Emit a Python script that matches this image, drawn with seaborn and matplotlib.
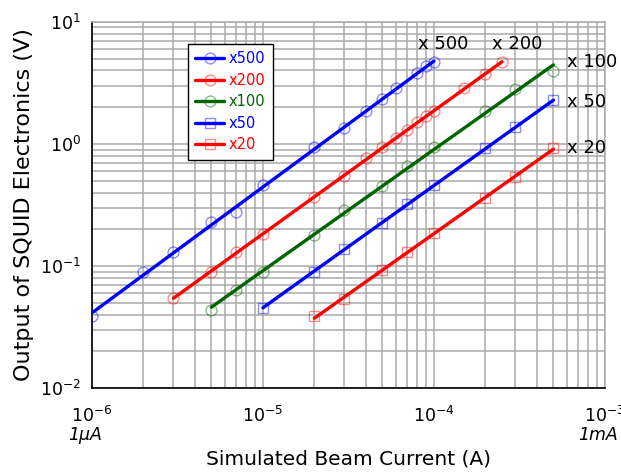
import numpy as np
import pandas as pd
import matplotlib
matplotlib.use("Agg")
import matplotlib.pyplot as plt
from matplotlib.lines import Line2D
import seaborn as sns

# ---- data ----
x500_I = [1e-6, 2e-6, 3e-6, 5e-6, 7e-6, 1e-5, 2e-5, 3e-5, 4e-5, 5e-5, 6e-5, 8e-5, 9e-5, 1e-4]
x500_V = [0.039, 0.089, 0.130, 0.23, 0.277, 0.457, 0.94, 1.34, 1.85, 2.32, 2.85, 3.78, 4.32, 4.66]

x200_I = [3e-6, 5e-6, 7e-6, 1e-5, 2e-5, 3e-5, 4e-5, 5e-5, 6e-5, 7e-5, 8e-5, 9e-5, 1e-4, 1.5e-4, 2e-4, 2.5e-4]
x200_V = [0.0547, 0.090, 0.129, 0.183, 0.368, 0.541, 0.76, 0.936, 1.11, 1.31, 1.50, 1.70, 1.86, 2.85, 3.71, 4.66]

x100_I = [5e-6, 7e-6, 1e-5, 2e-5, 3e-5, 5e-5, 7e-5, 1e-4, 2e-4, 3e-4, 5e-4]
x100_V = [0.044, 0.064, 0.090, 0.181, 0.285, 0.448, 0.654, 0.936, 1.85, 2.80, 3.93]

x50_I = [1e-5, 2e-5, 3e-5, 5e-5, 7e-5, 1e-4, 2e-4, 3e-4, 5e-4]
x50_V = [0.0457, 0.090, 0.137, 0.227, 0.319, 0.457, 0.92, 1.37, 2.27]

x20_I = [2e-5, 3e-5, 5e-5, 7e-5, 1e-4, 2e-4, 3e-4, 5e-4]
x20_V = [0.0386, 0.054, 0.092, 0.129, 0.185, 0.364, 0.54, 0.92]

series_names = ["x500", "x200", "x100", "x50", "x20"]
end_labels = ["x 500", "x 200", "x 100", "x 50", "x 20"]
x_tick_vals = [1e-6, 1e-5, 1e-4, 1e-3]
x_tick_labels = ["$10^{-6}$", "$10^{-5}$", "$10^{-4}$", "$10^{-3}$"]
y_tick_vals = [1e-2, 1e-1, 1e0, 1e1]
y_tick_labels = ["$10^{-2}$", "$10^{-1}$", "$10^{0}$", "$10^{1}$"]
unit_labels = ["1\u03bcA", "1mA"]

# ---- styles ----
colors = {"x500": "#0000ff", "x200": "#ff0000", "x100": "#006400", "x50": "#0000ff", "x20": "#ff0000"}
markers = {"x500": "o", "x200": "o", "x100": "o", "x50": "s", "x20": "s"}

frames = []
for name, I, V in zip(series_names,
                      [x500_I, x200_I, x100_I, x50_I, x20_I],
                      [x500_V, x200_V, x100_V, x50_V, x20_V]):
    d = pd.DataFrame({"I": I, "V": V, "series": name})
    # power-law fit line through the measured points
    k, b = np.polyfit(np.log10(d["I"]), np.log10(d["V"]), 1)
    d["fit"] = 10 ** (k * np.log10(d["I"]) + b)
    frames.append(d)
df = pd.concat(frames, ignore_index=True)

sns.set_style("white")
plt.rcParams["font.family"] = ["DejaVu Sans"]
plt.rcParams["mathtext.fontset"] = "dejavusans"
for key in ["text.color", "axes.labelcolor", "xtick.color", "ytick.color"]:
    plt.rcParams[key] = "black"

fig = plt.figure(figsize=(6.21, 4.75), dpi=100)
ax = fig.add_axes([0.148, 0.183, 0.826, 0.771])

handles = []
for name in series_names:
    sub = df[df["series"] == name]
    c = colors[name]
    sns.lineplot(data=sub, x="I", y="fit", ax=ax, color=c, linewidth=2.4,
                 sort=True, estimator=None, legend=False, zorder=3)
    ax.plot(sub["I"], sub["V"], linestyle="none", marker=markers[name],
            markersize=7.8, markerfacecolor="none",
            markeredgecolor=matplotlib.colors.to_rgba(c, 0.45),
            markeredgewidth=1.0, zorder=4)
    handles.append(Line2D([0], [0], color=c, linewidth=2.4, marker=markers[name],
                          markersize=7.8, markerfacecolor="none",
                          markeredgecolor=matplotlib.colors.to_rgba(c, 0.45),
                          markeredgewidth=1.0, label=name))

ax.set_xscale("log")
ax.set_yscale("log")
ax.set_xlim(1e-6, 1e-3)
ax.set_ylim(1e-2, 1e1)

ax.grid(True, which="both", color="#aaaaaa", linewidth=1.1)
ax.set_axisbelow(True)

ax.set_xticks(x_tick_vals)
ax.set_xticklabels(x_tick_labels)
ax.set_yticks(y_tick_vals)
ax.set_yticklabels(y_tick_labels)
ax.tick_params(axis="both", which="major", direction="in", length=5, width=1,
               labelsize=12.5, color="black")
ax.tick_params(axis="x", which="major", pad=13)
ax.tick_params(axis="y", which="major", pad=8)
ax.tick_params(axis="both", which="minor", direction="in", length=0)

for s in ["left", "bottom"]:
    ax.spines[s].set_color("black")
    ax.spines[s].set_linewidth(1.2)
for s in ["top", "right"]:
    ax.spines[s].set_color("#aaaaaa")
    ax.spines[s].set_linewidth(1.1)

ax.set_xlabel("Simulated Beam Current (A)", fontsize=14.5, labelpad=17)
ax.set_ylabel("Output of SQUID Electronics (V)", fontsize=16, labelpad=4)

# unit labels under end ticks
for xv, lab in zip([x_tick_vals[0], x_tick_vals[-1]], unit_labels):
    ax.annotate(lab, xy=(xv, 0), xycoords=ax.get_xaxis_transform(),
                xytext=(-5, -34), textcoords="offset points",
                ha="center", va="center", fontsize=12.5, style="italic")

# end labels
last_pts = [(x500_I[-1], x500_V[-1]), (x200_I[-1], x200_V[-1]), (x100_I[-1], x100_V[-1]),
            (x50_I[-1], x50_V[-1]), (x20_I[-1], x20_V[-1])]
label_off = [(-11.5, 13), (-7, 13), (10, 6.5), (10, -1), (10, 0)]
for lab, (xp, yp), (dx, dy) in zip(end_labels, last_pts, label_off):
    ax.annotate(lab, xy=(xp, yp), xytext=(dx, dy), textcoords="offset points",
                ha="left", va="center", fontsize=13, color="black")

leg = ax.legend(handles=handles, loc="upper left", bbox_to_anchor=(0.187, 0.94),
                borderaxespad=0, frameon=True, fancybox=False, edgecolor="black",
                framealpha=1, fontsize=10.5, handlelength=2.0, handletextpad=0.3,
                labelspacing=0.45, borderpad=0.5)
leg.get_frame().set_linewidth(1.0)
for t, name in zip(leg.get_texts(), series_names):
    t.set_color(colors[name])

fig.savefig("out.png", dpi=100)
